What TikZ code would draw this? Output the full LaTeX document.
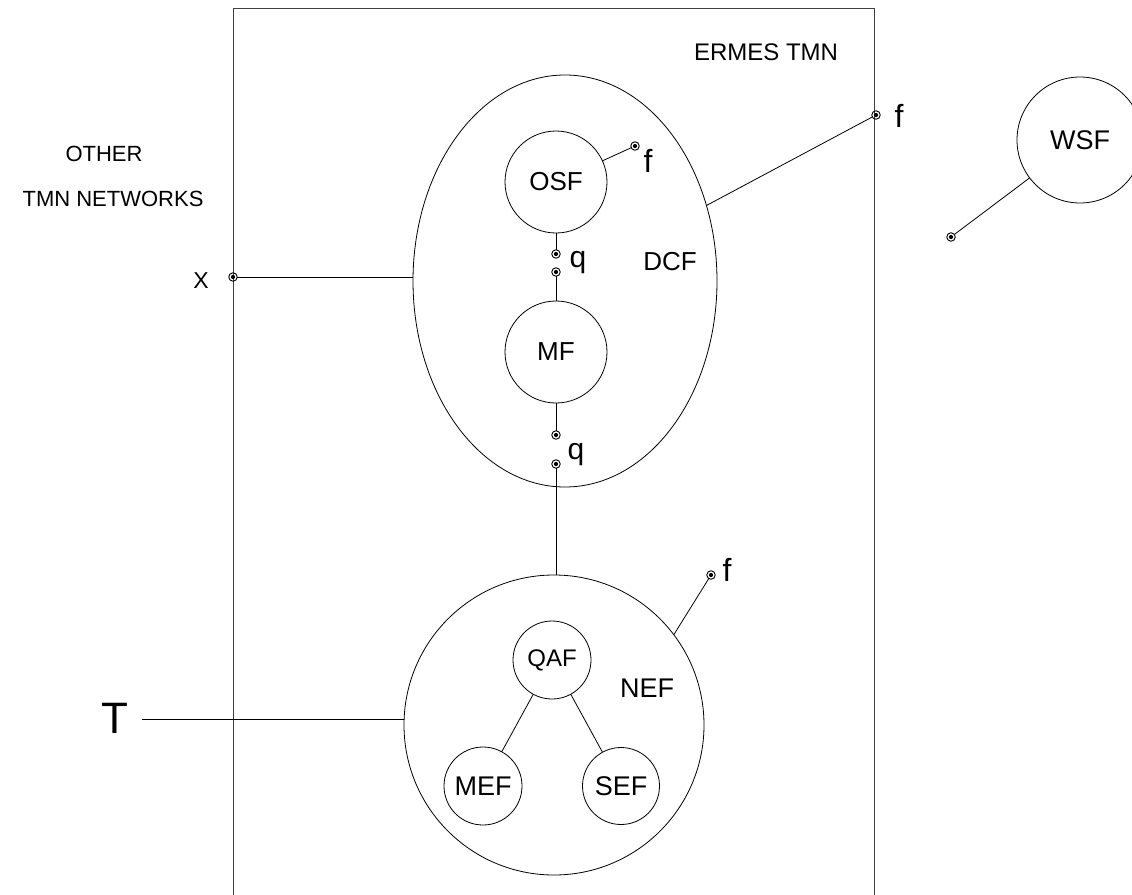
\documentclass[tikz,border=0pt]{standalone}
\usepackage{fontspec}
\setmainfont{Liberation Sans}
\usetikzlibrary{shapes.geometric}
\begin{document}
\begin{tikzpicture}[x=1pt,y=-1pt,line width=0.8pt,
  every node/.style={inner sep=0pt,outer sep=0pt},
  fn/.style={draw,circle,line width=0.8pt},
  refpt/.style={draw,circle,minimum size=8.5pt,line width=0.9pt,
    path picture={\fill (path picture bounding box.center) circle (2.1pt);}},
  frame/.style={line width=0.9pt,black!75},
  txt/.style={font=\fontsize{#1}{#1}\selectfont},
  txt/.default=26]
\clip (0,0) rectangle (1132,894);
% ERMES TMN frame
\draw[frame] (233,900) -- (233,8) -- (874,8) -- (874,900);
% DCF and its functions
\node[fn,ellipse,minimum width=304pt,minimum height=412pt] (dcf) at (565,281) {};
\node[fn,minimum size=102pt,txt] (osf) at (556,182) {OSF};
\node[fn,minimum size=102pt,txt] (mf) at (556,352) {MF};
\node[refpt] (fO) at (635,146) {};
\node[refpt] (q1) at (556,254) {};
\node[refpt] (q2) at (556,272) {};
\node[refpt] (q3) at (556,435) {};
\node[refpt] (q4) at (556,464) {};
% NEF and its functions
\node[fn,minimum size=300pt] (nef) at (554,725) {};
\node[fn,minimum size=78pt,txt=24] (qaf) at (552,660) {QAF};
\node[fn,minimum size=78pt,txt=27] (mef) at (483,786) {MEF};
\node[fn,minimum size=77pt,txt=27] (sef) at (621,786) {SEF};
\node[refpt] (fN) at (711,575) {};
% external
\node[refpt] (pX) at (233,277) {};
\node[refpt] (fR) at (876,115) {};
\node[fn,minimum size=126pt,txt=27] (wsf) at (1080,140) {WSF};
\node[refpt] (pW) at (951,237) {};
\coordinate (tS) at (142,719);
% labels
\node[txt=24] (ermes) at (766,52) {ERMES TMN};
\node[txt=22] (other) at (104,154) {OTHER};
\node[txt=22] (tmnnet) at (113,199) {TMN NETWORKS};
\node[txt=23] (lx) at (201,281) {X};
\node[txt=44] (lt) at (115,718) {T};
\node[txt=32] (lfR) at (899,116) {f};
\node[txt=32] (lfO) at (648,161) {f};
\node[txt=32] (lfN) at (727,570) {f};
\node[txt=30] (lq1) at (578,263) {q};
\node[txt=30] (lq2) at (576,455) {q};
\node[txt=26] (ldcf) at (670,262) {DCF};
\node[txt=27] (lnef) at (647,688) {NEF};
% connectors
\draw (osf) -- (fO);
\draw (osf) -- (q1);
\draw (q2) -- (mf);
\draw (mf) -- (q3);
\draw (q4) -- (q4 |- nef.north);
\draw (pX) -- (pX -| dcf.west);
\draw (dcf) -- (fR);
\draw (nef.37.5) -- (fN);
\draw (tS) -- (tS -| nef.west);
\draw (qaf) -- (mef);
\draw (qaf) -- (sef);
\draw (wsf) -- (pW);
\end{tikzpicture}
\end{document}
